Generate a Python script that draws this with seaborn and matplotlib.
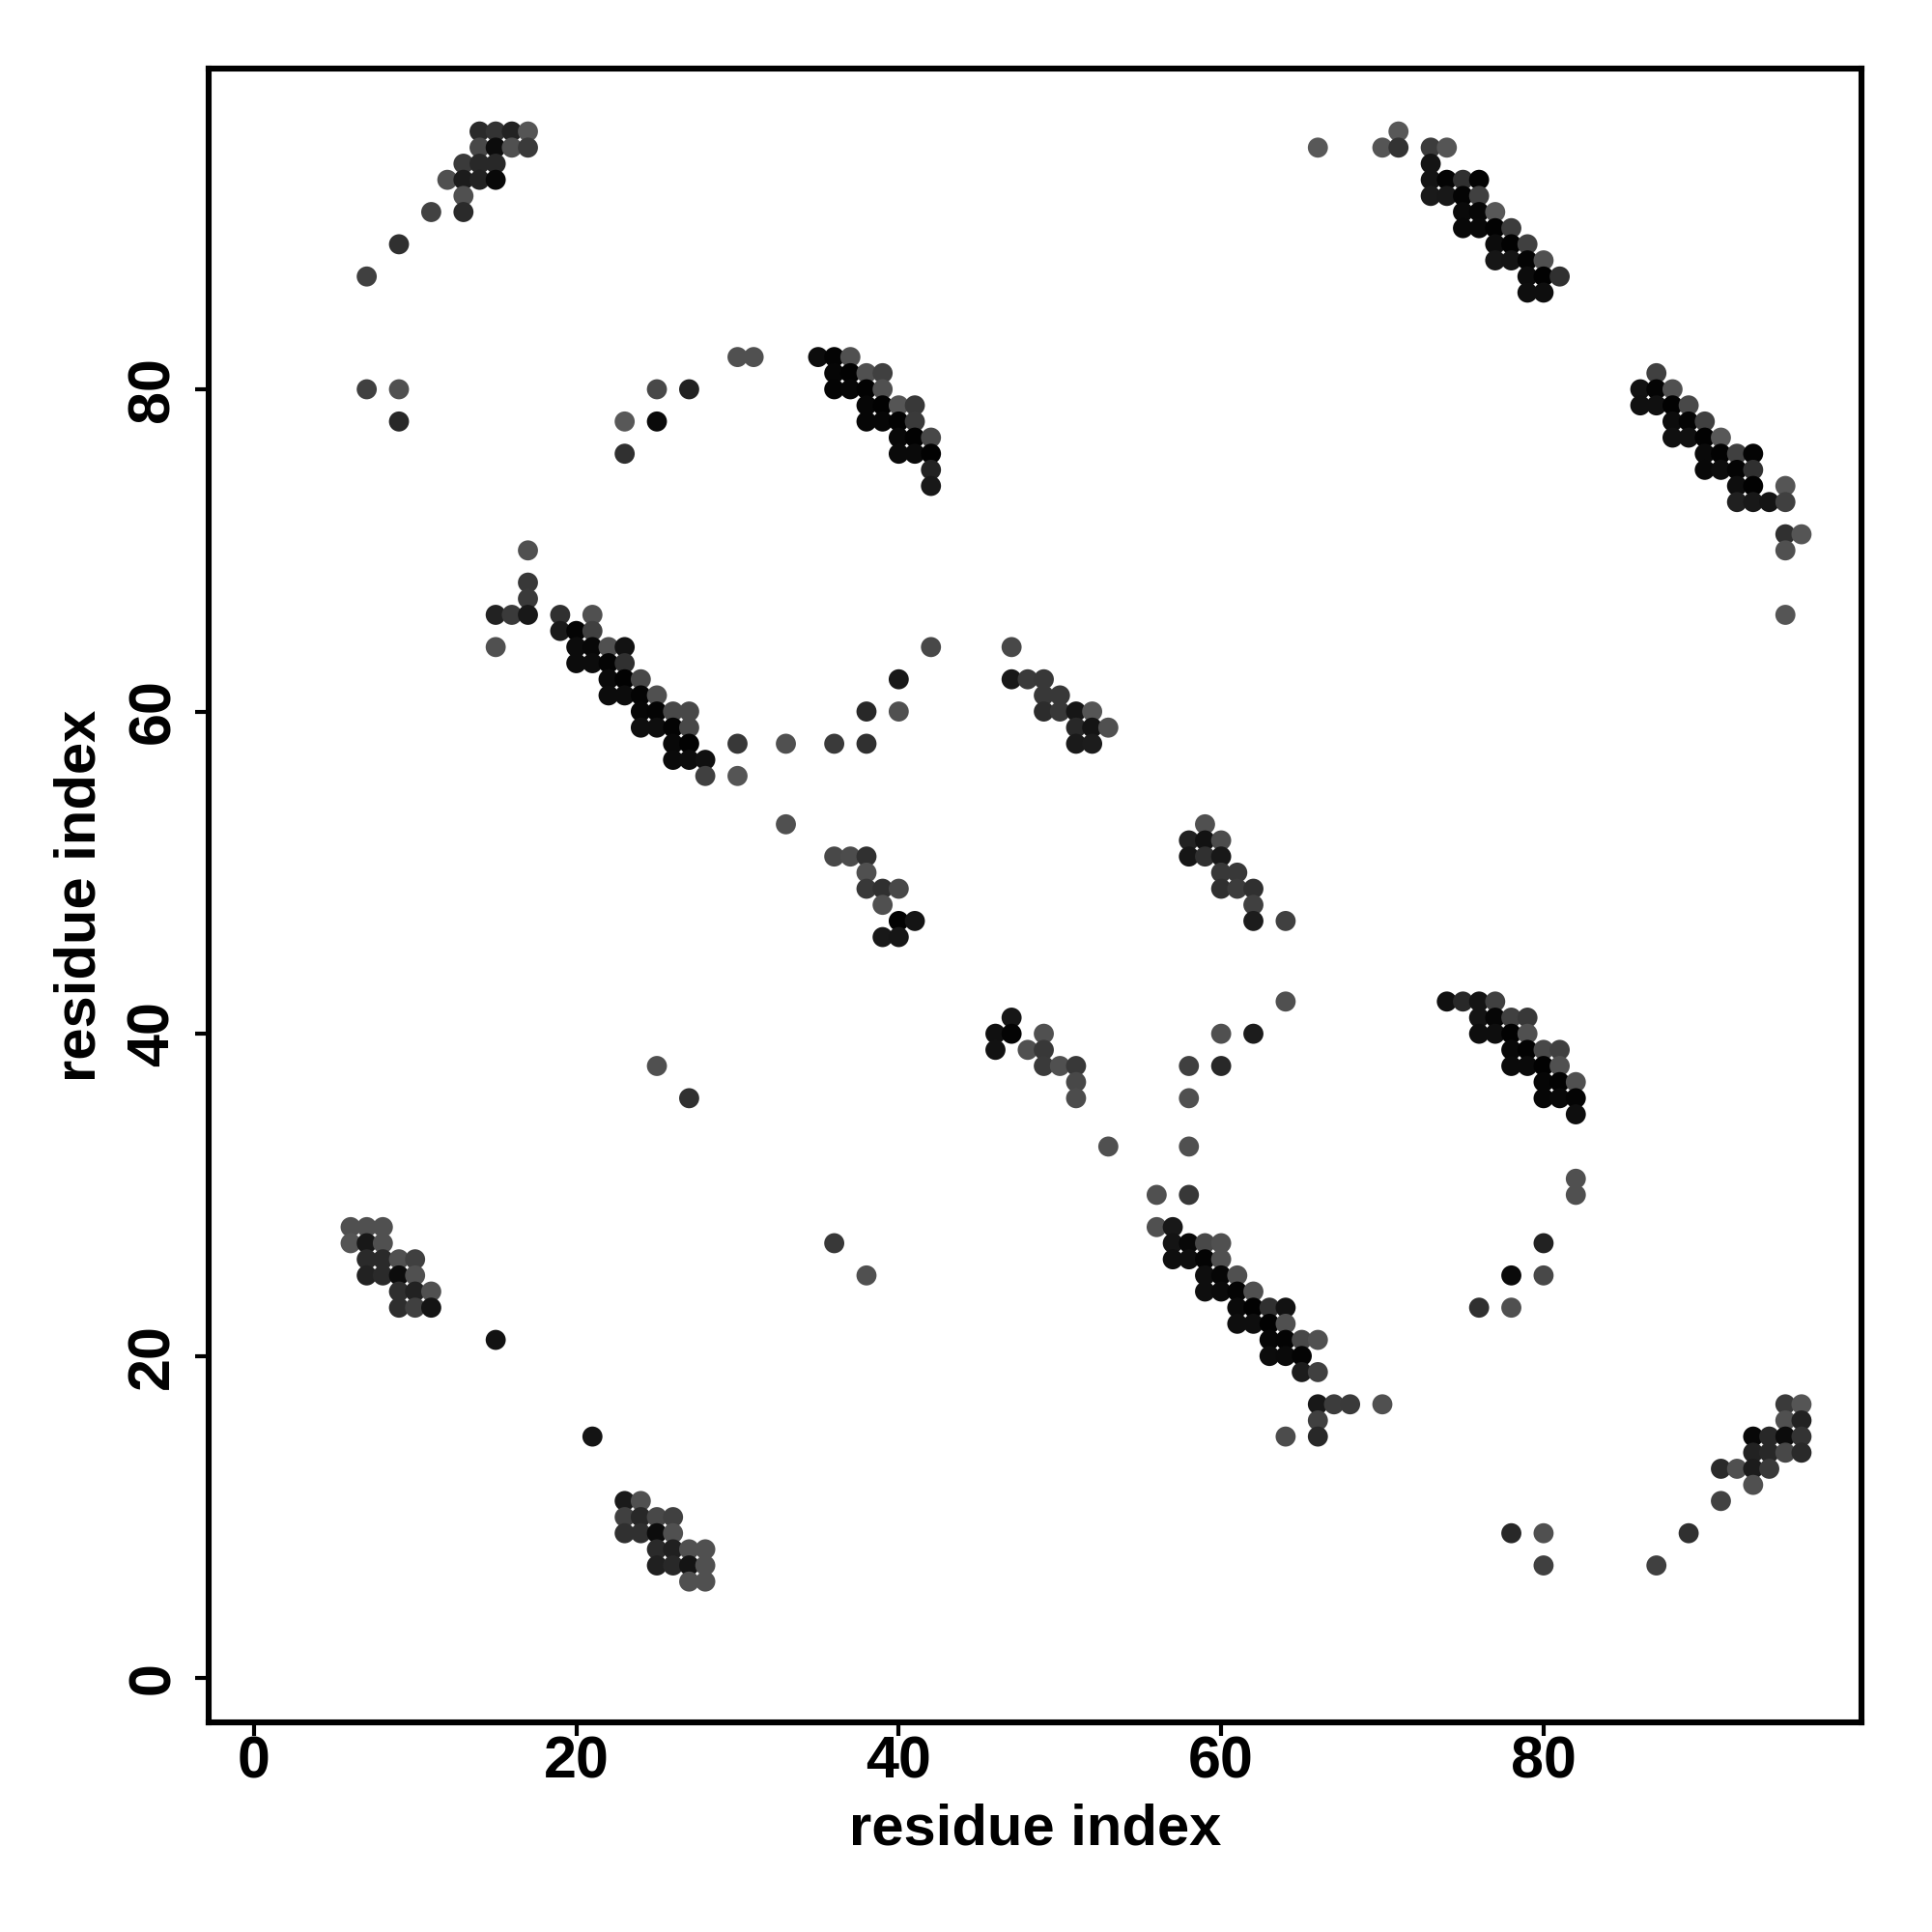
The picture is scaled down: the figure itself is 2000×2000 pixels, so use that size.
import pandas as pd
import seaborn as sns
import matplotlib.pyplot as plt

# One entry per row of the map, from the top of the plot down
row_j = [96, 95, 94, 93, 92, 91, 90, 89, 88, 87, 86,
         82, 81, 80, 79, 78, 77, 76, 75, 74, 73, 71, 70,
         68, 67, 66, 65, 64, 63, 62, 61, 60, 59, 58, 57, 56,
         53, 52, 51, 50, 49, 48, 47, 46,
         42, 41, 40, 39, 38, 37, 36, 35, 33, 31, 30,
         28, 27, 26, 25, 24, 23, 22, 21, 20, 19,
         17, 16, 15, 14, 13, 12, 11, 10, 9, 8, 7, 6]

# Partner residues found in each row
row_i = [
    [14, 15, 16, 17, 71],
    [14, 15, 16, 17, 66, 70, 71, 73, 74],
    [13, 14, 15, 73],
    [12, 13, 14, 15, 73, 74, 75, 76],
    [13, 73, 74, 75, 76],
    [11, 13, 75, 76, 77],
    [75, 76, 77, 78],
    [9, 77, 78, 79],
    [77, 78, 79, 80],
    [7, 79, 80, 81],
    [79, 80],
    [30, 31, 35, 36, 37],
    [36, 37, 38, 39, 87],
    [7, 9, 25, 27, 36, 37, 38, 39, 86, 87, 88],
    [38, 39, 40, 41, 86, 87, 88, 89],
    [9, 23, 25, 38, 39, 40, 41, 88, 89, 90],
    [40, 41, 42, 88, 89, 90, 91],
    [23, 40, 41, 42, 90, 91, 92, 93],
    [42, 90, 91, 92, 93],
    [42, 92, 93, 95],
    [92, 93, 94, 95],
    [95, 96],
    [17, 95],
    [17],
    [17],
    [15, 16, 17, 19, 21, 95],
    [19, 20, 21],
    [15, 20, 21, 22, 23, 42, 47],
    [20, 21, 22, 23],
    [22, 23, 24, 40, 47, 48, 49],
    [22, 23, 24, 25, 49, 50],
    [24, 25, 26, 27, 38, 40, 49, 50, 51, 52],
    [24, 25, 26, 27, 51, 52, 53],
    [26, 27, 30, 33, 36, 38, 51, 52],
    [26, 27, 28],
    [28, 30],
    [33, 59],
    [58, 59, 60],
    [36, 37, 38, 58, 59, 60],
    [38, 60, 61],
    [38, 39, 40, 60, 61, 62],
    [39, 62],
    [40, 41, 62, 64],
    [39, 40],
    [64, 74, 75, 76, 77],
    [47, 76, 77, 78, 79],
    [46, 47, 49, 60, 62, 76, 77, 78, 79],
    [46, 48, 49, 78, 79, 80, 81],
    [25, 49, 50, 51, 58, 60, 78, 79, 80, 81],
    [51, 80, 81, 82],
    [27, 51, 58, 80, 81, 82],
    [82],
    [53, 58],
    [82],
    [56, 58, 82],
    [6, 7, 8, 56, 57],
    [6, 7, 8, 36, 57, 58, 59, 60, 80],
    [7, 8, 9, 10, 57, 58, 59, 60],
    [7, 8, 9, 10, 38, 59, 60, 61, 78, 80],
    [9, 10, 11, 59, 60, 61, 62],
    [9, 10, 11, 61, 62, 63, 64, 76, 78],
    [61, 62, 63, 64],
    [15, 63, 64, 65, 66],
    [63, 64, 65],
    [65, 66],
    [66, 67, 68, 70, 95, 96],
    [66, 95, 96],
    [21, 64, 66, 93, 94, 95, 96],
    [93, 94, 95, 96],
    [91, 92, 93, 94],
    [93],
    [23, 24, 91],
    [23, 24, 25, 26],
    [23, 24, 25, 26, 78, 80, 89],
    [25, 26, 27, 28],
    [25, 26, 27, 28, 80, 87],
    [27, 28],
]

# Grey level of each point (0 = black, 255 = white), same layout as row_i
row_shade = [
    [0x2a, 0x33, 0x22, 0x55, 0x58],
    [0x48, 0x0c, 0x50, 0x3a, 0x58, 0x55, 0x33, 0x3c, 0x55],
    [0x3a, 0x28, 0x28, 0x14],
    [0x50, 0x1c, 0x22, 0x08, 0x14, 0x04, 0x30, 0x04],
    [0x50, 0x1a, 0x18, 0x04, 0x40],
    [0x42, 0x2a, 0x0a, 0x06, 0x58],
    [0x08, 0x08, 0x02, 0x3c],
    [0x30, 0x0c, 0x02, 0x40],
    [0x16, 0x14, 0x04, 0x50],
    [0x40, 0x0c, 0x02, 0x30],
    [0x0e, 0x0e],
    [0x50, 0x50, 0x0c, 0x04, 0x50],
    [0x06, 0x02, 0x50, 0x40, 0x40],
    [0x40, 0x50, 0x48, 0x22, 0x04, 0x06, 0x02, 0x50, 0x12, 0x04, 0x50],
    [0x06, 0x02, 0x55, 0x38, 0x10, 0x10, 0x02, 0x48],
    [0x28, 0x58, 0x0a, 0x06, 0x06, 0x02, 0x3a, 0x0c, 0x04, 0x40],
    [0x08, 0x02, 0x48, 0x10, 0x10, 0x02, 0x58],
    [0x30, 0x0a, 0x0a, 0x02, 0x0a, 0x02, 0x40, 0x04],
    [0x22, 0x08, 0x0c, 0x04, 0x30],
    [0x18, 0x0e, 0x02, 0x55],
    [0x20, 0x18, 0x14, 0x40],
    [0x30, 0x55],
    [0x50, 0x50],
    [0x38],
    [0x3a],
    [0x22, 0x3a, 0x18, 0x30, 0x50, 0x55],
    [0x1a, 0x04, 0x40],
    [0x50, 0x0c, 0x08, 0x50, 0x12, 0x48, 0x48],
    [0x0c, 0x0c, 0x04, 0x30],
    [0x0a, 0x02, 0x48, 0x18, 0x18, 0x3a, 0x38],
    [0x0c, 0x0c, 0x04, 0x50, 0x38, 0x38],
    [0x06, 0x04, 0x48, 0x48, 0x28, 0x50, 0x2c, 0x38, 0x16, 0x55],
    [0x0e, 0x0e, 0x04, 0x48, 0x28, 0x14, 0x50],
    [0x08, 0x02, 0x38, 0x50, 0x3a, 0x30, 0x1a, 0x1c],
    [0x0a, 0x0c, 0x10],
    [0x40, 0x55],
    [0x50, 0x50],
    [0x22, 0x12, 0x4c],
    [0x48, 0x4c, 0x30, 0x16, 0x30, 0x18],
    [0x50, 0x38, 0x38],
    [0x38, 0x30, 0x48, 0x30, 0x3c, 0x30],
    [0x50, 0x40],
    [0x02, 0x14, 0x1c, 0x40],
    [0x18, 0x16],
    [0x50, 0x10, 0x28, 0x14, 0x40],
    [0x16, 0x14, 0x06, 0x40, 0x38],
    [0x10, 0x04, 0x50, 0x50, 0x1c, 0x0e, 0x0e, 0x02, 0x50],
    [0x12, 0x50, 0x38, 0x08, 0x02, 0x48, 0x40],
    [0x50, 0x3a, 0x50, 0x38, 0x40, 0x28, 0x0a, 0x0a, 0x02, 0x50],
    [0x48, 0x06, 0x02, 0x50],
    [0x30, 0x4c, 0x50, 0x06, 0x08, 0x04],
    [0x0e],
    [0x50, 0x50],
    [0x50],
    [0x50, 0x38, 0x50],
    [0x50, 0x50, 0x50, 0x50, 0x18],
    [0x55, 0x18, 0x50, 0x38, 0x14, 0x08, 0x48, 0x50, 0x22],
    [0x2a, 0x2a, 0x50, 0x40, 0x0e, 0x0e, 0x04, 0x50],
    [0x22, 0x2a, 0x0c, 0x50, 0x50, 0x0e, 0x06, 0x50, 0x0a, 0x48],
    [0x2e, 0x22, 0x50, 0x0e, 0x0a, 0x04, 0x50],
    [0x2e, 0x40, 0x14, 0x0a, 0x02, 0x30, 0x12, 0x30, 0x50],
    [0x0e, 0x0e, 0x02, 0x50],
    [0x12, 0x06, 0x04, 0x48, 0x50],
    [0x0c, 0x0a, 0x04],
    [0x1c, 0x40],
    [0x18, 0x3c, 0x3a, 0x50, 0x3a, 0x55],
    [0x40, 0x50, 0x22],
    [0x14, 0x4c, 0x28, 0x08, 0x28, 0x0c, 0x33],
    [0x22, 0x28, 0x48, 0x2a],
    [0x2a, 0x50, 0x1c, 0x3a],
    [0x50],
    [0x1a, 0x50, 0x42],
    [0x40, 0x28, 0x48, 0x40],
    [0x30, 0x30, 0x0c, 0x50, 0x28, 0x50, 0x30],
    [0x2a, 0x20, 0x50, 0x50],
    [0x20, 0x28, 0x14, 0x50, 0x40, 0x40],
    [0x50, 0x50],
]

tick_values = [0, 20, 40, 60, 80]

# Flatten the rows into one table for seaborn
records = []
for j, residues, shades in zip(row_j, row_i, row_shade):
    for i, grey in zip(residues, shades):
        records.append((i, j, grey))
contacts = pd.DataFrame(records, columns=["i", "j", "shade"])

sns.set_style("white")
plt.rcParams["font.family"] = ["Liberation Sans", "DejaVu Sans"]
plt.rcParams["font.weight"] = "bold"

fig, ax = plt.subplots(figsize=(10, 10), dpi=200)
fig.subplots_adjust(left=0.1078, right=0.9635, top=0.9643, bottom=0.1085)

sns.scatterplot(data=contacts, x="i", y="j", hue="shade", palette="gray", hue_norm=(0, 255),
                s=56, linewidth=0, legend=False, ax=ax)

ax.set_xlim(-2.83, 99.72)
ax.set_ylim(-2.74, 99.88)
ax.set_xticks(tick_values)
ax.set_yticks(tick_values)
ax.tick_params(axis="both", direction="out", length=5, width=1.5, color="black", labelsize=22,
               labelcolor="black", left=True, bottom=True)
ax.tick_params(axis="x", pad=0)
ax.tick_params(axis="y", pad=5)
for label in ax.get_yticklabels():
    label.set_rotation(90)
    label.set_va("center")

ax.set_xlabel("residue index", fontsize=21.5, fontweight="bold", color="black", va="center")
ax.set_ylabel("residue index", fontsize=21.5, fontweight="bold", color="black", va="center")
ax.xaxis.set_label_coords(0.5, -0.0648)
ax.yaxis.set_label_coords(-0.0775, 0.5)

for side in ax.spines.values():
    side.set_visible(True)
    side.set_color("black")
    side.set_linewidth(2.2)

fig.savefig("out.png", dpi=200)
